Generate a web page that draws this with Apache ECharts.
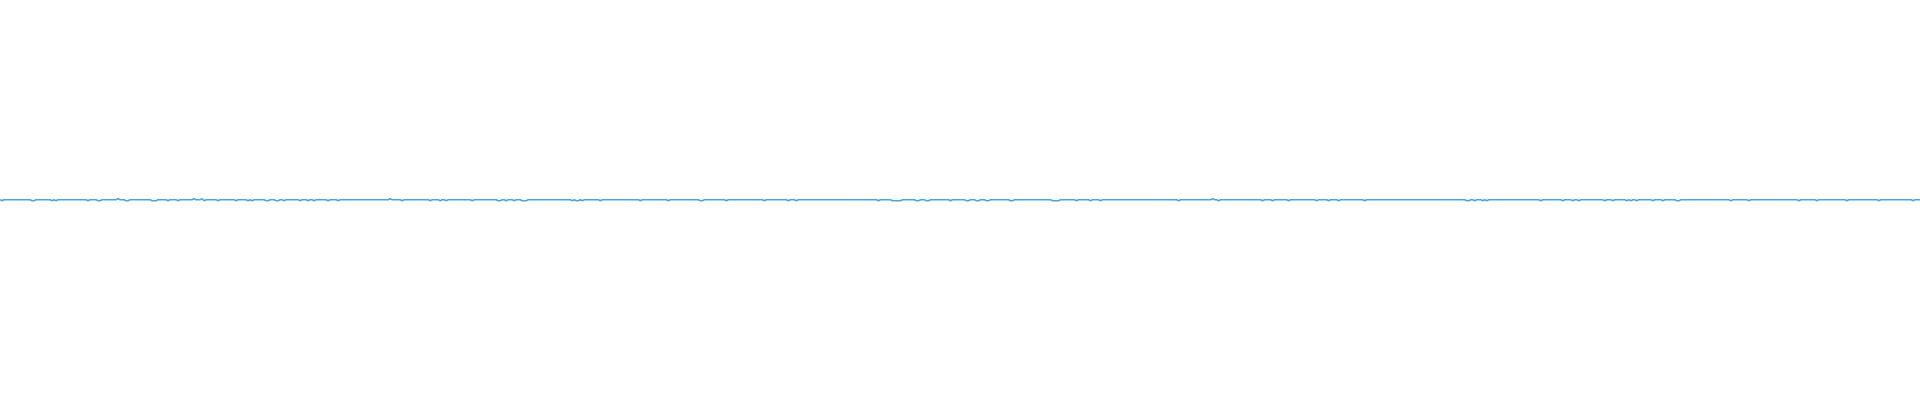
<!DOCTYPE html>
<html>
<head>
<meta charset="utf-8">
<script src="https://cdn.jsdelivr.net/npm/echarts@6/dist/echarts.min.js"></script>
<style>html,body{margin:0;padding:0;background:#fff}#c{width:1920px;height:400px}</style>
</head>
<body>
<div id="c"></div>
<script>
// number of samples along the x axis (one per pixel column)
const sampleCount = 1920;
// baseline value of the series
const baseValue = 0;
// sample indices where the series dips slightly below the baseline
const dipIndices = [2,29,32,34,43,52,56,61,71,77,83,88,91,93,95,98,100,103,105,107,111,115,121,123,126,128,131,133,135,143,152,154,156,165,168,173,177,178,185,191,193,197,204,207,218,233,236,243,248,252,261,263,266,268,271,273,276,278,283,284,297,300,303,307,308,314,317,319,325,328,331,338,349,389,397,
402,407,411,419,430,440,443,446,453,455,465,467,472,477,487,498,500,506,514,522,524,526,547,551,553,572,576,578,582,585,587,589,600,635,640,651,668,700,702,707,709,726,763,764,773,781,788,796,
878,879,887,889,892,894,896,898,900,903,905,907,909,916,918,921,923,926,928,931,933,941,950,957,966,968,971,973,976,978,981,983,986,988,991,993,995,1010,1012,1025,1027,1029,1047,1049,1052,1054,1056,1058,1076,1090,1093,1095,1097,1100,1103,1105,1107,1169,1178,1187,
1207,1218,1227,1229,1255,1259,1262,1263,1272,1279,1288,1289,1295,1297,1299,1316,1327,1328,1335,1338,1353,1363,1364,1375,1377,1403,1411,1427,1447,1466,1468,1474,1482,1483,1486,1519,1521,1535,1540,1553,1555,1562,1567,1569,1572,1573,1578,1597,
1604,1609,1612,1617,1621,1626,1630,1633,1636,1637,1643,1647,1652,1657,1659,1662,1663,1669,1673,1676,1678,1683,1730,1735,1739,1743,1748,1765,1777,1783,1787,1795,1798,1805,1813,1816,1819,1843,1846,1853,1855,1857,1859,1875,1878,1912];
const dipValue = -1;
// sample indices where the series rises slightly above the baseline
const riseIndices = [118,194,202,390,491,549,1212,1277,1689];
const riseValue = 1;

const categories = [];
const values = [];
for (let i = 0; i < sampleCount; i++) { categories.push(String(i)); values.push(baseValue); }
dipIndices.forEach(i => { values[i] = dipValue; });
riseIndices.forEach(i => { values[i] = riseValue; });

const chart = echarts.init(document.getElementById('c'), null, {renderer: 'canvas'});
chart.setOption({
  animation: false,
  backgroundColor: '#ffffff',
  grid: {left: 0, right: 0, top: -0.5, bottom: 0.5, containLabel: false},
  xAxis: {type: 'category', data: categories, boundaryGap: false, show: false},
  yAxis: {type: 'value', min: -200, max: 200, show: false},
  series: [{
    type: 'line',
    data: values,
    showSymbol: false,
    symbol: 'none',
    lineStyle: {color: '#4aa5e3', width: 1.5},
    itemStyle: {color: '#4aa5e3'}
  }]
});
</script>
</body>
</html>
